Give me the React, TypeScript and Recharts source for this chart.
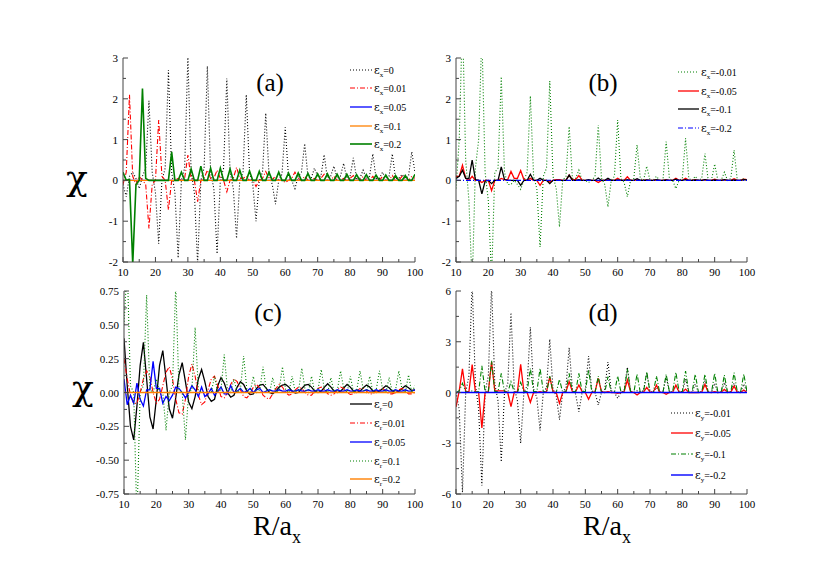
import React from 'react';
import { LineChart, Line, XAxis, YAxis } from 'recharts';

// R / a_x sampled on integer steps
const R = [
  10, 11, 12, 13, 14, 15, 16, 17, 18, 19,
  20, 21, 22, 23, 24, 25, 26, 27, 28, 29,
  30, 31, 32, 33, 34, 35, 36, 37, 38, 39,
  40, 41, 42, 43, 44, 45, 46, 47, 48, 49,
  50, 51, 52, 53, 54, 55, 56, 57, 58, 59,
  60, 61, 62, 63, 64, 65, 66, 67, 68, 69,
  70, 71, 72, 73, 74, 75, 76, 77, 78, 79,
  80, 81, 82, 83, 84, 85, 86, 87, 88, 89,
  90, 91, 92, 93, 94, 95, 96, 97, 98, 99,
  100,
];

const flat = [
  0, 0, 0, 0, 0, 0, 0, 0, 0, 0,
  0, 0, 0, 0, 0, 0, 0, 0, 0, 0,
  0, 0, 0, 0, 0, 0, 0, 0, 0, 0,
  0, 0, 0, 0, 0, 0, 0, 0, 0, 0,
  0, 0, 0, 0, 0, 0, 0, 0, 0, 0,
  0, 0, 0, 0, 0, 0, 0, 0, 0, 0,
  0, 0, 0, 0, 0, 0, 0, 0, 0, 0,
  0, 0, 0, 0, 0, 0, 0, 0, 0, 0,
  0, 0, 0, 0, 0, 0, 0, 0, 0, 0,
  0,
];

// (a) eps_x >= 0
const aEps0 = [
  -0.1, -0.4, 0.1, 0.2, 0.05, -0.2, 0.1, 0.3, 1.95, 0.2,
  -0.3, -1.55, 0.0, 0.3, 2.7, 0.2, -0.3, -1.9, 0.0, 0.3,
  3.05, 0.2, -0.3, -2.05, 0.0, 0.3, 2.8, 0.2, -0.2, -1.8,
  0.0, 0.3, 2.5, 0.2, -0.2, -1.42, 0.0, 0.2, 2.1, 0.2,
  -0.1, -1.0, 0.0, 0.2, 1.65, 0.15, -0.1, -0.58, 0.0, 0.15,
  1.3, 0.1, 0.0, -0.2, 0.1, 0.2, 0.9, 0.1, 0.05, 0.3,
  0.1, 0.1, 0.63, 0.05, 0.1, 0.35, 0.05, 0.1, 0.42, 0.05,
  0.1, 0.55, 0.05, 0.05, 0.25, 0.05, 0.1, 0.65, 0.05, 0.05,
  0.2, 0.05, 0.1, 0.65, 0.05, 0.05, 0.15, 0.05, 0.1, 0.7,
  0.2,
];
const aEps001 = [
  -0.1, 0.2, 2.1, 0.1, -0.1, 0.1, 0.0, -0.1, -1.18, -0.1,
  0.0, 1.48, 0.1, 0.0, -0.72, 0.0, 0.0, 0.05, 0.0, 0.05,
  0.62, 0.05, 0.0, -0.52, 0.0, 0.05, 0.25, 0.05, 0.05, 0.25,
  0.05, 0.0, -0.28, 0.0, 0.05, 0.32, 0.05, 0.05, 0.1, 0.0,
  0.0, -0.15, 0.0, 0.05, 0.22, 0.05, 0.02, 0.1, 0.0, 0.0,
  -0.05, 0.0, 0.05, 0.2, 0.05, 0.0, 0.1, 0.0, 0.0, 0.05,
  0.0, 0.05, 0.15, 0.0, 0.0, 0.1, 0.0, 0.0, 0.05, 0.0,
  0.05, 0.12, 0.0, 0.0, 0.1, 0.0, 0.0, 0.1, 0.0, 0.0,
  0.1, 0.0, 0.0, 0.12, 0.0, 0.0, 0.1, 0.0, 0.0, 0.1,
  0.05,
];
const aEps02 = [
  0.2, 0.0, 0.02, -2.05, -0.1, 0.0, 2.25, 0.05, 0.0, 0.0,
  0.0, 0.0, 0.0, 0.0, 0.0, 0.7, 0.0, 0.0, 0.2, 0.0,
  0.0, 0.28, 0.0, 0.0, 0.35, 0.0, 0.0, 0.3, 0.0, 0.0,
  0.3, 0.0, 0.0, 0.28, 0.0, 0.0, 0.25, 0.0, 0.0, 0.23,
  0.0, 0.0, 0.22, 0.0, 0.0, 0.2, 0.0, 0.0, 0.2, 0.0,
  0.0, 0.18, 0.0, 0.0, 0.18, 0.0, 0.0, 0.17, 0.0, 0.0,
  0.16, 0.0, 0.0, 0.16, 0.0, 0.0, 0.15, 0.0, 0.0, 0.15,
  0.0, 0.0, 0.14, 0.0, 0.0, 0.14, 0.0, 0.0, 0.13, 0.0,
  0.0, 0.13, 0.0, 0.0, 0.12, 0.0, 0.0, 0.12, 0.0, 0.0,
  0.15,
];

// (b) eps_x < 0
const bEpsM001 = [
  -0.2, 1.0, 4.0, 0.5, -0.5, -2.6, 0.3, 1.0, 3.6, 0.2,
  -0.5, -2.4, 0.2, 0.3, 2.54, 0.2, -0.1, -0.1, 0.0, -0.1,
  -0.22, 0.0, 0.2, 2.07, 0.1, -0.2, -1.63, 0.1, 0.3, 2.44,
  0.1, -0.2, -1.14, 0.0, 0.1, 1.32, 0.05, 0.05, 0.25, 0.0,
  0.0, -0.05, 0.0, 0.1, 1.36, 0.05, -0.1, -0.65, 0.0, 0.1,
  1.48, 0.05, -0.05, -0.4, 0.0, 0.05, 0.87, 0.05, 0.0, 0.35,
  0.0, 0.0, 0.1, 0.0, 0.0, 0.95, 0.05, 0.0, -0.2, 0.0,
  0.05, 1.03, 0.05, 0.0, 0.1, 0.0, 0.05, 0.66, 0.0, 0.0,
  0.4, 0.0, 0.0, 0.2, 0.0, 0.05, 0.74, 0.0, 0.0, 0.05,
  0.0,
];
const bEpsM005 = [
  0.1, 0.1, 0.37, 0.05, 0.0, 0.1, 0.0, 0.0, -0.05, 0.0,
  0.0, -0.25, 0.0, 0.0, 0.05, 0.02, 0.02, 0.22, 0.05, 0.05,
  0.24, 0.02, 0.0, 0.05, 0.0, 0.0, -0.12, 0.0, 0.0, -0.04,
  0.0, 0.02, 0.02, 0.0, 0.0, 0.13, 0.02, 0.02, 0.12, 0.0,
  0.0, 0.0, 0.0, 0.0, -0.05, 0.0, 0.0, 0.02, 0.0, 0.0,
  0.05, 0.0, 0.0, 0.09, 0.0, 0.0, 0.02, 0.0, 0.0, 0.01,
  0.0, 0.0, 0.02, 0.0, 0.0, 0.02, 0.0, 0.0, 0.05, 0.0,
  0.0, 0.05, 0.0, 0.0, 0.02, 0.0, 0.0, 0.02, 0.0, 0.0,
  0.03, 0.0, 0.0, 0.02, 0.0, 0.0, 0.04, 0.0, 0.0, 0.03,
  0.02,
];
const bEpsM01 = [
  0.05, 0.1, 0.25, 0.05, 0.05, 0.5, 0.02, 0.0, -0.33, -0.02,
  0.0, -0.08, 0.0, 0.0, 0.33, 0.02, 0.0, 0.0, 0.0, 0.0,
  -0.12, 0.0, 0.0, 0.15, 0.0, 0.0, 0.05, 0.0, 0.0, -0.08,
  0.0, 0.0, 0.0, 0.0, 0.0, 0.13, 0.0, 0.0, 0.02, 0.0,
  0.0, 0.02, 0.0, 0.0, 0.06, 0.0, 0.0, 0.05, 0.0, 0.0,
  0.01, 0.0, 0.0, 0.02, 0.0, 0.0, 0.04, 0.0, 0.0, 0.01,
  0.0, 0.0, 0.02, 0.0, 0.0, 0.01, 0.0, 0.0, 0.03, 0.0,
  0.0, 0.02, 0.0, 0.0, 0.01, 0.0, 0.0, 0.02, 0.0, 0.0,
  0.01, 0.0, 0.0, 0.02, 0.0, 0.0, 0.01, 0.0, 0.0, 0.02,
  0.01,
];

// (c) eps_r >= 0
const cEps0 = [
  0.4, 0.05, -0.25, -0.35, -0.1, 0.2, 0.37, 0.1, -0.18, -0.27,
  -0.05, 0.2, 0.31, 0.1, -0.12, -0.19, -0.04, 0.13, 0.22, 0.08,
  -0.07, -0.12, -0.03, 0.1, 0.17, 0.08, -0.03, -0.065, -0.05, 0.05,
  0.11, 0.07, 0.0, -0.035, -0.02, 0.04, 0.08, 0.06, 0.01, -0.015,
  -0.01, 0.03, 0.055, 0.06, 0.03, 0.0, -0.01, 0.01, 0.04, 0.055,
  0.06, 0.04, 0.01, -0.005, 0.0, 0.03, 0.055, 0.06, 0.04, 0.01,
  0.0, 0.01, 0.04, 0.065, 0.04, 0.01, 0.0, 0.01, 0.035, 0.06,
  0.04, 0.01, 0.0, 0.01, 0.035, 0.055, 0.04, 0.01, 0.0, 0.01,
  0.03, 0.05, 0.035, 0.01, 0.0, 0.01, 0.03, 0.05, 0.035, 0.015,
  0.02,
];
const cEps001 = [
  0.25, 0.1, -0.02, -0.08, -0.08, 0.0, 0.1, 0.16, 0.12, 0.0,
  -0.08, -0.05, 0.05, 0.15, 0.19, 0.1, -0.05, -0.15, -0.16, -0.05,
  0.12, 0.21, 0.12, -0.02, -0.09, -0.07, 0.02, 0.1, 0.12, 0.05,
  -0.03, -0.04, 0.0, 0.06, 0.1, 0.08, 0.02, -0.03, -0.04, -0.01,
  0.04, 0.06, 0.03, -0.02, -0.04, -0.05, -0.01, 0.03, 0.06, 0.04,
  0.0, -0.02, -0.01, 0.02, 0.04, 0.03, 0.0, -0.02, -0.02, 0.01,
  0.03, 0.04, 0.02, -0.01, -0.02, -0.01, 0.02, 0.04, 0.03, 0.0,
  -0.015, -0.01, 0.01, 0.03, 0.03, 0.01, -0.01, -0.01, 0.01, 0.02,
  0.03, 0.01, -0.01, -0.01, 0.0, 0.02, 0.03, 0.01, -0.01, -0.01,
  0.0,
];
const cEps005 = [
  0.1, -0.09, -0.02, -0.08, 0.07, -0.05, -0.1, 0.02, 0.02, 0.23,
  0.03, 0.03, -0.08, -0.03, -0.06, -0.02, 0.04, 0.03, 0.0, -0.04,
  0.0, 0.05, 0.02, -0.03, 0.04, -0.03, -0.01, 0.03, -0.02, 0.01,
  0.04, -0.01, -0.01, 0.05, 0.0, 0.01, 0.03, 0.0, 0.01, 0.03,
  0.0, 0.02, 0.03, 0.0, 0.01, 0.02, 0.01, 0.01, 0.02, 0.01,
  0.01, 0.02, 0.01, 0.01, 0.02, 0.01, 0.01, 0.02, 0.01, 0.01,
  0.02, 0.01, 0.01, 0.02, 0.01, 0.01, 0.02, 0.01, 0.01, 0.02,
  0.01, 0.01, 0.02, 0.01, 0.01, 0.02, 0.01, 0.01, 0.02, 0.01,
  0.01, 0.02, 0.01, 0.01, 0.02, 0.01, 0.01, 0.02, 0.01, 0.01,
  0.02,
];
const cEps01 = [
  0.5, 0.95, 0.05, 0.0, -0.95, 0.0, 0.05, 0.72, 0.02, 0.0,
  0.1, 0.0, 0.0, -0.28, 0.0, 0.05, 0.8, 0.02, 0.0, -0.35,
  0.0, 0.02, 0.48, 0.02, 0.0, 0.0, 0.0, 0.0, 0.12, 0.0,
  0.02, 0.28, 0.02, 0.0, 0.1, 0.0, 0.02, 0.27, 0.02, 0.0,
  0.12, 0.0, 0.02, 0.19, 0.02, 0.0, 0.11, 0.0, 0.02, 0.19,
  0.02, 0.0, 0.12, 0.0, 0.02, 0.18, 0.02, 0.0, 0.12, 0.0,
  0.02, 0.17, 0.02, 0.0, 0.11, 0.0, 0.02, 0.16, 0.02, 0.0,
  0.12, 0.0, 0.02, 0.16, 0.02, 0.0, 0.12, 0.0, 0.02, 0.16,
  0.02, 0.0, 0.11, 0.0, 0.02, 0.16, 0.02, 0.0, 0.13, 0.0,
  0.05,
];

// (d) eps_y < 0
const dEpsM001 = [
  0.0, -1.0, -5.9, 0.0, 1.0, 6.5, 0.5, -1.0, -5.5, 0.0,
  1.0, 6.3, 0.5, -0.5, -4.1, 0.0, 0.5, 4.72, 0.3, -0.5,
  -3.0, 0.0, 0.4, 3.85, 0.2, -0.3, -2.25, 0.0, 0.3, 3.15,
  0.2, -0.2, -1.6, 0.0, 0.3, 2.65, 0.2, -0.1, -1.13, 0.0,
  0.2, 2.15, 0.1, 0.0, -0.74, 0.0, 0.2, 1.8, 0.1, 0.0,
  -0.34, 0.0, 0.1, 1.5, 0.1, 0.0, 0.1, 0.05, 0.1, 1.15,
  0.05, 0.0, 0.3, 0.0, 0.05, 0.95, 0.05, 0.0, 0.4, 0.0,
  0.05, 0.8, 0.05, 0.0, 0.5, 0.0, 0.05, 0.7, 0.0, 0.0,
  0.55, 0.0, 0.05, 0.6, 0.0, 0.0, 0.55, 0.0, 0.0, 0.5,
  0.0,
];
const dEpsM005 = [
  -0.85, 0.1, 1.4, 0.05, 0.05, 1.65, 0.05, 0.0, -2.1, 0.0,
  0.05, 1.8, 0.1, 0.1, 0.1, 0.1, 0.0, -0.84, 0.0, 0.05,
  1.66, 0.05, 0.0, -0.58, 0.0, 0.0, 0.05, 0.0, 0.05, 0.93,
  0.05, 0.0, -0.64, 0.0, 0.05, 0.64, 0.05, 0.05, 0.44, 0.05,
  0.0, -0.4, 0.0, 0.05, 0.84, 0.05, 0.0, 0.05, 0.0, 0.0,
  -0.05, 0.0, 0.05, 0.74, 0.05, 0.0, -0.15, 0.0, 0.02, 0.3,
  0.02, 0.02, 0.44, 0.02, 0.0, -0.11, 0.0, 0.02, 0.44, 0.02,
  0.02, 0.2, 0.0, 0.0, 0.0, 0.0, 0.02, 0.48, 0.02, 0.0,
  0.05, 0.0, 0.02, 0.18, 0.02, 0.02, 0.38, 0.02, 0.0, 0.15,
  0.0,
];
const dEpsM01 = [
  0.0, 0.1, 0.55, 0.05, 0.0, 0.1, 0.02, 0.05, 1.57, 0.05,
  0.05, 1.88, 0.05, 0.05, 1.13, 0.05, 0.0, 0.64, 0.05, 0.0,
  0.6, 0.05, 0.05, 1.43, 0.05, 0.05, 1.43, 0.05, 0.0, 0.97,
  0.0, 0.0, 0.78, 0.0, 0.05, 1.13, 0.05, 0.05, 1.13, 0.05,
  0.05, 1.33, 0.05, 0.0, 0.97, 0.0, 0.0, 0.94, 0.0, 0.0,
  0.97, 0.05, 0.05, 1.39, 0.05, 0.0, 1.09, 0.0, 0.05, 1.23,
  0.0, 0.0, 0.97, 0.0, 0.0, 1.07, 0.05, 0.05, 1.19, 0.05,
  0.05, 1.27, 0.0, 0.0, 1.07, 0.0, 0.0, 1.07, 0.0, 0.0,
  1.13, 0.0, 0.0, 1.03, 0.0, 0.05, 1.17, 0.05, 0.0, 1.09,
  0.05,
];

const xTicks = [10, 15, 20, 25, 30, 35, 40, 45, 50, 55, 60, 65, 70, 75, 80, 85, 90, 95, 100];
const xMajors = [10, 20, 30, 40, 50, 60, 70, 80, 90, 100];
const abTicks = [-2, -1.5, -1, -0.5, 0, 0.5, 1, 1.5, 2, 2.5, 3];
const abMajors = [-2, -1, 0, 1, 2, 3];
const cTicks = [-0.75, -0.625, -0.5, -0.375, -0.25, -0.125, 0, 0.125, 0.25, 0.375, 0.5, 0.625, 0.75];
const cMajors = [-0.75, -0.5, -0.25, 0, 0.25, 0.5, 0.75];
const dTicks = [-6, -4.5, -3, -1.5, 0, 1.5, 3, 4.5, 6];
const dMajors = [-6, -3, 0, 3, 6];

const FONT = 'Liberation Serif';
const GREEK = 'DejaVu Serif';
const FRAME = '#444';
const DOT = '1 2';
const DASHDOT = '5 2 1 2';

const seriesA = [
  { key: 'e0', values: aEps0, color: '#000000', dash: DOT, w: 1.1, sub: 'x', label: '=0' },
  { key: 'e001', values: aEps001, color: '#ff0000', dash: DASHDOT, w: 1.1, sub: 'x', label: '=0.01' },
  { key: 'e005', values: flat, color: '#0000ff', dash: undefined, w: 1.3, sub: 'x', label: '=0.05' },
  { key: 'e01', values: flat, color: '#ff8000', dash: undefined, w: 1.3, sub: 'x', label: '=0.1' },
  { key: 'e02', values: aEps02, color: '#008000', dash: undefined, w: 1.6, sub: 'x', label: '=0.2' },
];
const seriesB = [
  { key: 'm001', values: bEpsM001, color: '#008000', dash: DOT, w: 1.1, sub: 'x', label: '=-0.01' },
  { key: 'm005', values: bEpsM005, color: '#ff0000', dash: undefined, w: 1.3, sub: 'x', label: '=-0.05' },
  { key: 'm01', values: bEpsM01, color: '#000000', dash: undefined, w: 1.3, sub: 'x', label: '=-0.1' },
  { key: 'm02', values: flat, color: '#0000ff', dash: DASHDOT, w: 1.1, sub: 'x', label: '=-0.2' },
];
const seriesC = [
  { key: 'e0', values: cEps0, color: '#000000', dash: undefined, w: 1.3, sub: 'r', label: '=0' },
  { key: 'e001', values: cEps001, color: '#ff0000', dash: DASHDOT, w: 1.1, sub: 'r', label: '=0.01' },
  { key: 'e005', values: cEps005, color: '#0000ff', dash: undefined, w: 1.3, sub: 'r', label: '=0.05' },
  { key: 'e01', values: cEps01, color: '#008000', dash: DOT, w: 1.1, sub: 'r', label: '=0.1' },
  { key: 'e02', values: flat, color: '#ff8000', dash: undefined, w: 1.4, sub: 'r', label: '=0.2' },
];
const seriesD = [
  { key: 'm001', values: dEpsM001, color: '#000000', dash: DOT, w: 1.1, sub: 'y', label: '=-0.01' },
  { key: 'm005', values: dEpsM005, color: '#ff0000', dash: undefined, w: 1.3, sub: 'y', label: '=-0.05' },
  { key: 'm01', values: dEpsM01, color: '#008000', dash: DASHDOT, w: 1.1, sub: 'y', label: '=-0.1' },
  { key: 'm02', values: flat, color: '#0000ff', dash: undefined, w: 1.4, sub: 'y', label: '=-0.2' },
];

type S = (typeof seriesA)[number];

const buildRows = (series: S[]) =>
  R.map((r, i) => {
    const row: Record<string, number> = { R: r };
    series.forEach((s) => {
      row[s.key] = s.values[i];
    });
    return row;
  });

const isMajor = (v: number, majors: number[]) => majors.some((m) => Math.abs(m - v) < 1e-9);

const makeTick = (side: string, majors: number[], fmt?: (v: number) => string) => (props: any) => {
  const { x, y, payload } = props;
  const v = payload.value;
  const major = isMajor(v, majors);
  const len = major ? 5 : 3;
  if (side === 'bottom') {
    return (
      <g>
        <line x1={x} y1={y} x2={x} y2={y - len} stroke={FRAME} />
        {major && fmt && (
          <text x={x} y={y + 14} textAnchor="middle" fontSize={11} fontFamily={FONT} fill="#000">
            {fmt(v)}
          </text>
        )}
      </g>
    );
  }
  if (side === 'top') {
    return <line x1={x} y1={y} x2={x} y2={y + len} stroke={FRAME} />;
  }
  if (side === 'left') {
    return (
      <g>
        <line x1={x} y1={y} x2={x + len} y2={y} stroke={FRAME} />
        {major && fmt && (
          <text x={x - 5} y={y + 4} textAnchor="end" fontSize={11} fontFamily={FONT} fill="#000">
            {fmt(v)}
          </text>
        )}
      </g>
    );
  }
  return <line x1={x} y1={y} x2={x - len} y2={y} stroke={FRAME} />;
};

interface PanelProps {
  left: number;
  top: number;
  width: number;
  height: number;
  series: S[];
  yDomain: [number, number];
  yTicks: number[];
  yMajors: number[];
  yFmt: (v: number) => string;
}

const Panel: React.FC<PanelProps> = ({ left, top, width, height, series, yDomain, yTicks, yMajors, yFmt }) => {
  const rows = buildRows(series);
  return (
    <div style={{ position: 'absolute', left, top }}>
      <LineChart width={width} height={height} data={rows} margin={{ top: 5, right: 12, bottom: 0, left: 0 }}>
        <XAxis
          xAxisId="b"
          dataKey="R"
          type="number"
          domain={[10, 100]}
          ticks={xTicks}
          interval={0}
          tickSize={0}
          tickMargin={0}
          height={20}
          allowDataOverflow
          axisLine={{ stroke: FRAME }}
          tick={makeTick('bottom', xMajors, (v) => String(v))}
        />
        <XAxis
          xAxisId="t"
          orientation="top"
          dataKey="R"
          type="number"
          domain={[10, 100]}
          ticks={xTicks}
          interval={0}
          tickSize={0}
          tickMargin={0}
          height={0}
          allowDataOverflow
          axisLine={{ stroke: FRAME }}
          tick={makeTick('top', xMajors)}
        />
        <YAxis
          yAxisId="l"
          type="number"
          domain={yDomain}
          ticks={yTicks}
          interval={0}
          tickSize={0}
          tickMargin={0}
          width={40}
          allowDataOverflow
          axisLine={{ stroke: FRAME }}
          tick={makeTick('left', yMajors, yFmt)}
        />
        <YAxis
          yAxisId="r"
          orientation="right"
          type="number"
          domain={yDomain}
          ticks={yTicks}
          interval={0}
          tickSize={0}
          tickMargin={0}
          width={0}
          allowDataOverflow
          axisLine={{ stroke: FRAME }}
          tick={makeTick('right', yMajors)}
        />
        {series.map((s) => (
          <Line
            key={s.key}
            xAxisId="b"
            yAxisId="l"
            type="linear"
            dataKey={s.key}
            stroke={s.color}
            strokeWidth={s.w}
            strokeDasharray={s.dash}
            dot={false}
            activeDot={false}
            isAnimationActive={false}
          />
        ))}
      </LineChart>
    </div>
  );
};

const LegendBox = ({ series, x1, x2, ys }: { series: S[]; x1: number; x2: number; ys: number[] }) => (
  <g>
    {series.map((s, i) => (
      <g key={s.key}>
        <line x1={x1} y1={ys[i]} x2={x2} y2={ys[i]} stroke={s.color} strokeWidth={s.w} strokeDasharray={s.dash} />
        <text x={x2 + 2} y={ys[i] + 4} fontSize={10} fontFamily={FONT} fill="#000">
          <tspan fontSize={11} fontFamily={GREEK}>ε</tspan>
          <tspan fontSize={7} dy={3}>
            {s.sub}
          </tspan>
          <tspan dy={-3}>{s.label}</tspan>
        </text>
      </g>
    ))}
  </g>
);

const XTitle = ({ x }: { x: number }) => (
  <text x={x} y={535} fontSize={28} fontFamily={FONT} fill="#000">
    R/a
    <tspan fontSize={18} dy={8}>
      x
    </tspan>
  </text>
);

export default function App() {
  const intFmt = (v: number) => String(v);
  return (
    <div style={{ position: 'absolute', left: 0, top: 0, width: 830, height: 581, background: '#fff', fontFamily: FONT }}>
      <Panel left={83} top={53} width={344} height={229} series={seriesA} yDomain={[-2, 3]} yTicks={abTicks} yMajors={abMajors} yFmt={intFmt} />
      <Panel left={416} top={53} width={343} height={229} series={seriesB} yDomain={[-2, 3]} yTicks={abTicks} yMajors={abMajors} yFmt={intFmt} />
      <Panel left={84} top={286} width={343} height={228} series={seriesC} yDomain={[-0.75, 0.75]} yTicks={cTicks} yMajors={cMajors} yFmt={(v) => v.toFixed(2)} />
      <Panel left={416} top={286} width={343} height={228} series={seriesD} yDomain={[-6, 6]} yTicks={dTicks} yMajors={dMajors} yFmt={intFmt} />
      <svg width={830} height={581} style={{ position: 'absolute', left: 0, top: 0, pointerEvents: 'none' }}>
        <text x={270} y={91} textAnchor="middle" fontSize={25} fontFamily={FONT}>(a)</text>
        <text x={603} y={91} textAnchor="middle" fontSize={25} fontFamily={FONT}>(b)</text>
        <text x={268} y={321} textAnchor="middle" fontSize={25} fontFamily={FONT}>(c)</text>
        <text x={603} y={321} textAnchor="middle" fontSize={25} fontFamily={FONT}>(d)</text>
        <text x={77} y={190} textAnchor="middle" fontSize={36} fontFamily={GREEK}>χ</text>
        <text x={83} y={400} textAnchor="middle" fontSize={36} fontFamily={GREEK}>χ</text>
        <XTitle x={253} />
        <XTitle x={583} />
        <LegendBox series={seriesA} x1={350} x2={372} ys={[70, 88, 107, 126, 144]} />
        <LegendBox series={seriesB} x1={678} x2={699} ys={[72, 91, 109, 128]} />
        <LegendBox series={seriesC} x1={350} x2={372} ys={[404, 423, 442, 461, 479]} />
        <LegendBox series={seriesD} x1={671} x2={693} ys={[413, 433, 454, 475]} />
      </svg>
    </div>
  );
}
